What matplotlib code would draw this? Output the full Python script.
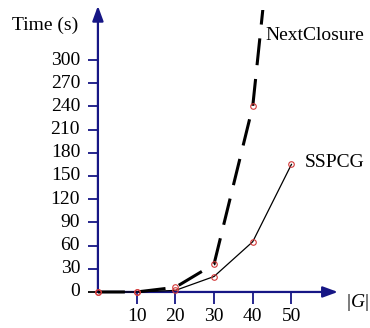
import matplotlib.pyplot as plt
from matplotlib.patches import Rectangle

plt.rcParams['font.family'] = ['Liberation Serif', 'DejaVu Serif']

# data
sizes = [0, 10, 20, 30, 40, 50]
sspcg = [0, 0, 2, 20, 65, 165]
nextclosure = [0, 0, 6, 36, 240, 720]
yticks = [0, 30, 60, 90, 120, 150, 180, 210, 240, 270, 300]
xticks = [10, 20, 30, 40, 50]

axis_col = '#161685'
mark_col = '#d33a3a'
fs = 14

fig = plt.figure(figsize=(3.70, 3.28), dpi=100)
ax = fig.add_axes([0, 0, 1, 1])
ax.set_xlim(-25.3, 70.3)
ax.set_ylim(-46.6, 377.6)
ax.axis('off')

# axes with arrow heads
arrow = dict(arrowstyle='-|>,head_length=0.9,head_width=0.33', color=axis_col,
             lw=1.6, shrinkA=0, shrinkB=0, mutation_scale=10)
ax.annotate('', xy=(62, 0), xytext=(0, 0), arrowprops=arrow)
ax.annotate('', xy=(0, 370), xytext=(0, 0), arrowprops=arrow)

# ticks
for v in yticks:
    c = 'black' if v == 0 else axis_col
    ax.plot([-2.6, 0], [v, v], color=c, lw=1.3, solid_capstyle='butt')
    ax.text(-4.6, v, str(v), ha='right', va='center', fontsize=fs)
for g in xticks:
    ax.plot([g, g], [0, -15.5], color=axis_col, lw=1.3, solid_capstyle='butt')
    ax.text(g, -32, str(g), ha='center', va='center', fontsize=fs)

ax.text(-5.2, 345, 'Time (s)', ha='right', va='center', fontsize=fs)
ax.text(64.3, -13, '|', ha='left', va='center', fontsize=fs)
ax.text(65.4, -13, 'G', ha='left', va='center', fontsize=fs, style='italic')
ax.text(69.0, -13, '|', ha='left', va='center', fontsize=fs)

# series
lw_d = 2.2
nc_line, = ax.plot(sizes, nextclosure, color='black', lw=lw_d,
                   ls=(0, (19.4 / lw_d, 10 / lw_d)), zorder=3)
clip = Rectangle((-30, -50), 120, 415, transform=ax.transData)
nc_line.set_clip_path(clip)
ax.plot(sizes, sspcg, color='black', lw=0.9, zorder=3)
ax.plot(sizes[:5], nextclosure[:5], ls='none', marker='o', ms=4, mfc='none',
        mec=mark_col, mew=0.8, zorder=4)
ax.plot(sizes, sspcg, ls='none', marker='o', ms=4, mfc='none',
        mec=mark_col, mew=0.8, zorder=4)

ax.text(43.4, 332, 'NextClosure', ha='left', va='center', fontsize=fs)
ax.text(53.5, 167, 'SSPCG', ha='left', va='center', fontsize=fs)

fig.savefig('out.png', dpi=100)
